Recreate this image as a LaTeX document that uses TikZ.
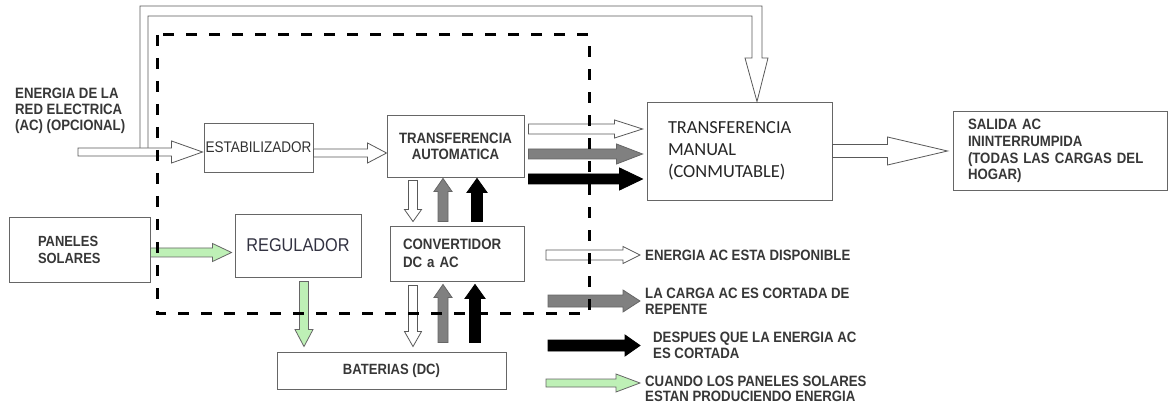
\documentclass[tikz,border=0pt]{standalone}
\usepackage{fontspec}
\setmainfont{Liberation Sans}
\newfontfamily\narrowfont[FakeStretch=0.88]{Liberation Sans}
\newfontfamily\calfont{Carlito}
\usepackage{xcolor}
\usetikzlibrary{arrows.meta,positioning,calc}
\definecolor{solargreen}{RGB}{190,240,182}
\definecolor{labelgray}{RGB}{55,55,55}
\definecolor{reggray}{RGB}{50,50,65}

\begin{document}
\begin{tikzpicture}[x=1pt,y=-1pt,
box/.style={draw=black!60,line width=0.9pt,inner sep=0pt},
lbl/.style={font=\narrowfont\bfseries\fontsize{15}{16}\selectfont,text=labelgray},
shaft/.store in=\shaftw, headw/.store in=\headw, headl/.store in=\headl,
shaft=4.5pt, headw=9pt, headl=15pt,
blk/.style={draw=black!65,line width=0.8pt,to path={
  let \p1=(\tikztostart), \p2=(\tikztotarget),
      \n1={atan2(\y2-\y1,\x2-\x1)}, \n2={veclen(\x2-\x1,\y2-\y1)} in
  {[shift={(\p1)},rotate=\n1]
   (0pt,-\shaftw) -- ({\n2-\headl},-\shaftw) -- ({\n2-\headl},-\headw)
   -- ({\n2+0pt},0pt) -- ({\n2-\headl},\headw) -- ({\n2-\headl},\shaftw)
   -- (0pt,\shaftw) -- cycle}}},
whiteflow/.style={blk,fill=white},
greyflow/.style={blk,fill=black!50,draw=black!60},
blackflow/.style={blk,fill=black,draw=black},
greenflow/.style={blk,fill=solargreen,draw=black!60},
dsh/.style={line width=3pt,dash pattern=on 11pt off 12pt}]

\path[fill=white] (0,0) rectangle (1173,406);
\useasboundingbox (0,0) rectangle (1173,406);

% boxes
\node[box,minimum width=109pt,minimum height=49pt,font=\narrowfont\fontsize{15.4}{18}\selectfont,text=black!80] (est) at (258.5,147.5) {ESTABILIZADOR};
\node[box,lbl,minimum width=137pt,minimum height=62pt,align=center] (ta) at (455.5,146) {TRANSFERENCIA\\AUTOMATICA};
\node[box,minimum width=185pt,minimum height=98pt,align=left,text width=143pt,font=\calfont\fontsize{18.4}{22}\selectfont,text=black!85] (tm) at (739.5,151) {TRANSFERENCIA\\MANUAL\\(CONMUTABLE)};
\node[box,lbl,minimum width=214pt,minimum height=79pt,align=left,text width=184pt,font=\narrowfont\bfseries\fontsize{15}{16.7}\selectfont] (sal) at (1060,151) {SALIDA AC\\ININTERRUMPIDA\\(TODAS LAS CARGAS DEL\\HOGAR)};
\node[box,lbl,minimum width=141pt,minimum height=65pt,align=left,text width=83pt,font=\narrowfont\bfseries\fontsize{14.7}{17}\selectfont] (pan) at (79.5,249.5) {PANELES\\SOLARES};
\node[box,minimum width=126pt,minimum height=63pt,font=\narrowfont\fontsize{18.5}{22}\selectfont,text=reggray] (reg) at (298,245.5) {REGULADOR};
\node[box,lbl,minimum width=134pt,minimum height=55pt,align=left,text width=108pt,font=\narrowfont\bfseries\fontsize{15.1}{18}\selectfont] (conv) at (457,253.5) {CONVERTIDOR\\DC a AC};
\node[box,lbl,minimum width=229pt,minimum height=37pt,font=\narrowfont\bfseries\fontsize{14.85}{17}\selectfont] (bat) at (391.5,370.5) {BATERIAS (DC)};

\node[lbl,align=left,anchor=west,inner sep=0pt] (grid) at (15,111) {ENERGIA DE LA\\RED ELECTRICA\\(AC) (OPCIONAL)};

% legend
\node[lbl,anchor=west,align=left,inner xsep=5pt,inner ysep=0pt] (lg1) at (640,255) {ENERGIA AC ESTA DISPONIBLE};
\node[lbl,anchor=west,align=left,inner xsep=5pt,inner ysep=0pt] (lg2) at (640,301) {LA CARGA AC ES CORTADA DE\\REPENTE};
\node[lbl,anchor=west,align=left,inner xsep=5pt,inner ysep=0pt] (lg3) at (648,345.5) {DESPUES QUE LA ENERGIA AC\\ES CORTADA};
\node[lbl,anchor=west,align=left,inner xsep=5pt,inner ysep=0pt,font=\narrowfont\bfseries\fontsize{15}{14.5}\selectfont] (lg4) at (640,389) {CUANDO LOS PANELES SOLARES\\ESTAN PRODUCIENDO ENERGIA};
\coordinate (k1) at (546,255);
\coordinate (k2) at (548,301);
\coordinate (k3) at (548,345.5);
\coordinate (k4) at (546,383);

% red electrica y bypass
\coordinate (in0) at (78,152);
\draw[black!65,line width=0.8pt] (140,148) |- (762,6) -- (762,58) -- (768,58) -- ([xshift=17.5pt]tm.north) -- (745,58) -- (752,58) |- (148,16) -- (148,148);
\draw[whiteflow,shaft=4pt,headw=11pt,headl=31pt] (in0) to ([shift={(-1pt,-4.5pt)}]est.west);
\draw[whiteflow,shaft=4pt,headw=10pt,headl=19pt] ([yshift=-5.5pt]est.east) to ([yshift=-7pt]ta.west);

% transferencia automatica -> manual -> salida
\draw[whiteflow,shaft=5pt,headw=9pt,headl=28pt] ([shift={(4pt,17pt)}]ta.east) to ([shift={(-4pt,22pt)}]tm.west);
\draw[greyflow,shaft=5pt,headw=10pt,headl=26pt] ([shift={(4pt,-8pt)}]ta.east) to ([shift={(-4pt,-3pt)}]tm.west);
\draw[blackflow,shaft=5pt,headw=11pt,headl=23pt] ([shift={(4pt,-33pt)}]ta.east) to ([shift={(-4pt,-28pt)}]tm.west);
\draw[whiteflow,shaft=6.5pt,headw=14pt,headl=60pt] (tm.east) to ([xshift=-5pt]sal.west);

% solar
\draw[greenflow,shaft=4.5pt,headw=9pt,headl=19pt] ([yshift=-3pt]pan.east) to ([shift={(-3pt,-7pt)}]reg.west);
\draw[greenflow,shaft=4.5pt,headw=9pt,headl=17pt] ([shift={(6pt,-4pt)}]reg.south) to ([shift={(-87.5pt,5pt)}]bat.north);

% convertidor
\draw[whiteflow,shaft=4.5pt,headw=8.5pt,headl=12pt] ([shift={(-42.5pt,-3pt)}]ta.south) to ([shift={(-44pt,4pt)}]conv.north);
\draw[greyflow,shaft=5pt,headw=9pt,headl=13pt] ([shift={(-14pt,4pt)}]conv.north) to ([shift={(-12.5pt,-1pt)}]ta.south);
\draw[blackflow,shaft=5.5pt,headw=10pt,headl=14pt] ([shift={(20pt,4pt)}]conv.north) to ([shift={(21.5pt,-1pt)}]ta.south);
\draw[whiteflow,shaft=4.5pt,headw=8.5pt,headl=15pt] ([shift={(-44pt,-4pt)}]conv.south) to ([shift={(21.5pt,5pt)}]bat.north);
\draw[greyflow,shaft=5pt,headw=9pt,headl=13pt] ([shift={(51.5pt,9pt)}]bat.north) to ([shift={(-14pt,-3pt)}]conv.south);
\draw[blackflow,shaft=5.5pt,headw=10pt,headl=14pt] ([shift={(83.5pt,9pt)}]bat.north) to ([shift={(18pt,-3pt)}]conv.south);

% legend arrows
\draw[whiteflow,shaft=5pt,headw=8.5pt,headl=17pt] (k1) to (lg1.west);
\draw[greyflow,shaft=6pt,headw=11pt,headl=17pt] (k2) to (lg2.west);
\draw[blackflow,shaft=5.5pt,headw=10.5pt,headl=15pt] (k3) to ([xshift=-8pt]lg3.west);
\draw[greenflow,shaft=4pt,headw=9pt,headl=24pt] (k4) to ([yshift=6pt]lg4.west);

% zona punteada
\draw[dsh] (157,35) rectangle (589,313);
\end{tikzpicture}
\end{document}
